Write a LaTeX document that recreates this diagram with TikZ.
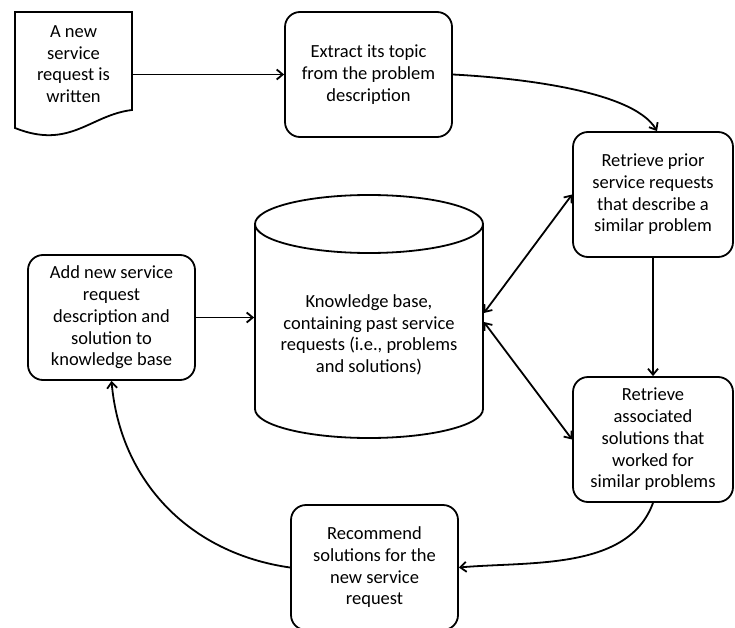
\documentclass[tikz,border=0pt]{standalone}
\usepackage{fontspec}
\setmainfont{Carlito}
\usetikzlibrary{arrows.meta}

\begin{document}
\begin{tikzpicture}[x=1pt,y=-1pt,line width=1.8pt,
    >={Straight Barb[length=6pt,width=10pt]},
    txt/.style={align=center,inner sep=0pt,font=\fontsize{18.5}{21.7}\selectfont},
    box/.style={txt,draw,rounded corners=15pt,minimum width=160pt,minimum height=125pt}]
            \useasboundingbox (0,0) rectangle (735,628);
            \node[txt,minimum width=117pt] (req) at (73.5,64) {A new\\service\\request is\\written};
            \draw (15,12)--(132,12)--(132,110) .. controls (90,115) and (70,150) .. (15,128)--cycle;
            \node[box,minimum width=167pt] (topic) at (368.5,74.5) {Extract its topic\\from the problem\\description};
            \node[box] (prior) at (653,194.5) {Retrieve prior\\service requests\\that describe a\\similar problem};
            \node[box] (assoc) at (653,439.5) {Retrieve\\associated\\solutions that\\worked for\\similar problems};
            \node[box,minimum width=167pt] (recom) at (374.5,567.5) {Recommend\\solutions for the\\new service\\request};
            \node[box,minimum width=167pt] (add) at (111.5,317.5) {Add new service\\request\\description and\\solution to\\knowledge base};
            \node[txt,minimum width=228pt] (kb) at (369,335) {Knowledge base,\\containing past service\\requests (i.e., problems\\and solutions)};
            \draw (255,224)--(255,409) arc (180:0:114 and 29)--(483,224);
            \draw (369,224) ellipse (114 and 29);
            \draw[->] (req.east |- topic.west)--(topic.west);
            \draw[->] (topic.east) to[out=-3,in=120,looseness=0.6] ([xshift=4pt]prior.north);
            \draw[->] (prior)--(assoc);
            \draw[->] (assoc.south) to[out=-110,in=5,looseness=0.9] (recom.east);
            \draw[->] (recom.west) to[out=172,in=-85] (add.south);
            \draw[->] (add.east)--(add.east -| kb.west);
            \draw[<->] ([yshift=22pt]kb.east)--(prior.west);
            \draw[<->] ([yshift=13pt]kb.east)--(assoc.west);
        \end{tikzpicture}
\end{document}
